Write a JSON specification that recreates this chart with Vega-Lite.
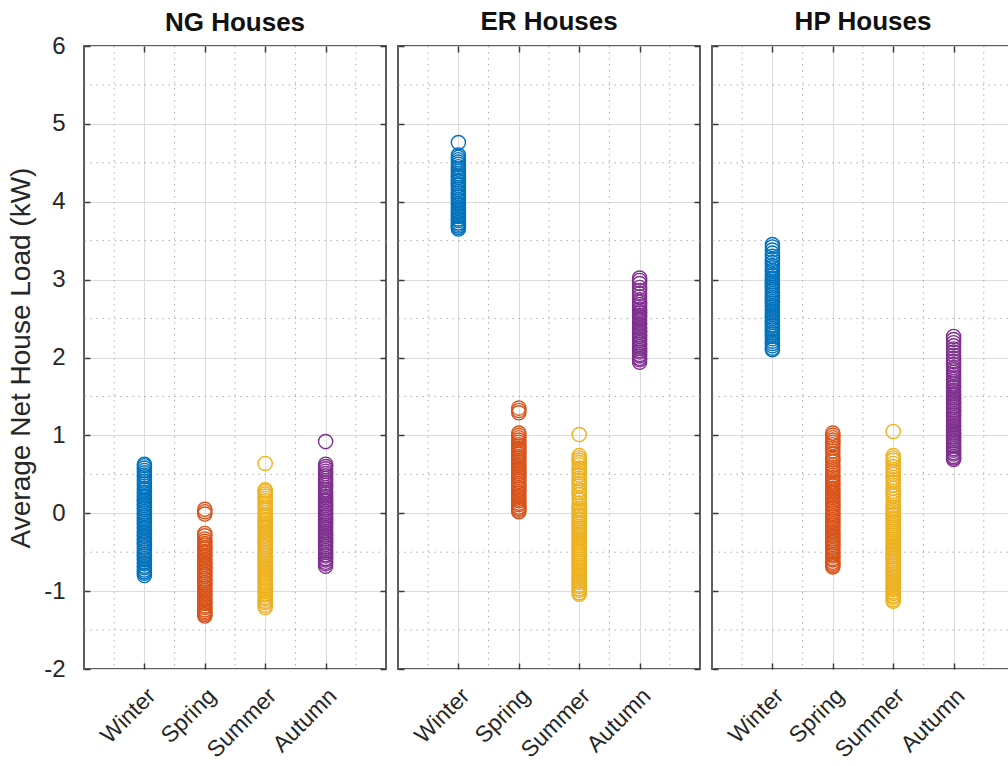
{
"$schema": "https://vega.github.io/schema/vega-lite/v6.json",
"autosize": {"type": "pad"},
"padding": {"left": 6, "top": 8, "right": 0, "bottom": 0},
"background": "white",
"spacing": 8,
"config": {
  "view": {"stroke": "#5e5e5e", "strokeWidth": 2},
  "font": "Liberation Sans",
  "title": {"fontSize": 26, "fontWeight": "bold", "color": "#111111", "baseline": "alphabetic", "frame": "group", "font": "Liberation Sans"},
  "axis": {"labelFont": "Liberation Sans", "titleFont": "Liberation Sans"}
},
"datasets": {
  "vg": [{"g": 0.5}, {"g": 1.5}, {"g": 2.5}, {"g": 3.5}, {"g": 4.5}],
  "hg": [{"g": -1.5}, {"g": -0.5}, {"g": 0.5}, {"g": 1.5}, {"g": 2.5}, {"g": 3.5}, {"g": 4.5}, {"g": 5.5}],
  "NG": [
{"s":"Winter","v":0.63},{"s":"Winter","v":0.61},{"s":"Winter","v":0.58},{"s":"Winter","v":0.55},{"s":"Winter","v":0.52},{"s":"Winter","v":0.49},{"s":"Winter","v":0.47},{"s":"Winter","v":0.44},{"s":"Winter","v":0.41},{"s":"Winter","v":0.38},{"s":"Winter","v":0.35},{"s":"Winter","v":0.32},{"s":"Winter","v":0.30},{"s":"Winter","v":0.27},{"s":"Winter","v":0.25},{"s":"Winter","v":0.22},{"s":"Winter","v":0.20},{"s":"Winter","v":0.17},{"s":"Winter","v":0.15},{"s":"Winter","v":0.12},{"s":"Winter","v":0.10},{"s":"Winter","v":0.07},{"s":"Winter","v":0.05},{"s":"Winter","v":0.02},{"s":"Winter","v":0.00},{"s":"Winter","v":-0.03},{"s":"Winter","v":-0.05},{"s":"Winter","v":-0.08},{"s":"Winter","v":-0.10},{"s":"Winter","v":-0.13},{"s":"Winter","v":-0.15},{"s":"Winter","v":-0.18},{"s":"Winter","v":-0.20},{"s":"Winter","v":-0.23},{"s":"Winter","v":-0.25},{"s":"Winter","v":-0.28},{"s":"Winter","v":-0.30},{"s":"Winter","v":-0.33},{"s":"Winter","v":-0.35},{"s":"Winter","v":-0.38},{"s":"Winter","v":-0.40},{"s":"Winter","v":-0.43},{"s":"Winter","v":-0.45},{"s":"Winter","v":-0.48},{"s":"Winter","v":-0.50},{"s":"Winter","v":-0.53},{"s":"Winter","v":-0.55},{"s":"Winter","v":-0.58},{"s":"Winter","v":-0.60},{"s":"Winter","v":-0.63},{"s":"Winter","v":-0.65},{"s":"Winter","v":-0.68},{"s":"Winter","v":-0.70},{"s":"Winter","v":-0.73},{"s":"Winter","v":-0.75},{"s":"Winter","v":-0.77},{"s":"Winter","v":-0.80},
{"s":"Spring","v":0.05},{"s":"Spring","v":0.02},{"s":"Spring","v":-0.01},{"s":"Spring","v":-0.26},{"s":"Spring","v":-0.29},{"s":"Spring","v":-0.33},{"s":"Spring","v":-0.36},{"s":"Spring","v":-0.39},{"s":"Spring","v":-0.41},{"s":"Spring","v":-0.44},{"s":"Spring","v":-0.46},{"s":"Spring","v":-0.49},{"s":"Spring","v":-0.51},{"s":"Spring","v":-0.54},{"s":"Spring","v":-0.56},{"s":"Spring","v":-0.59},{"s":"Spring","v":-0.61},{"s":"Spring","v":-0.64},{"s":"Spring","v":-0.66},{"s":"Spring","v":-0.69},{"s":"Spring","v":-0.71},{"s":"Spring","v":-0.74},{"s":"Spring","v":-0.76},{"s":"Spring","v":-0.79},{"s":"Spring","v":-0.81},{"s":"Spring","v":-0.84},{"s":"Spring","v":-0.86},{"s":"Spring","v":-0.89},{"s":"Spring","v":-0.91},{"s":"Spring","v":-0.94},{"s":"Spring","v":-0.96},{"s":"Spring","v":-0.99},{"s":"Spring","v":-1.01},{"s":"Spring","v":-1.04},{"s":"Spring","v":-1.06},{"s":"Spring","v":-1.09},{"s":"Spring","v":-1.11},{"s":"Spring","v":-1.14},{"s":"Spring","v":-1.16},{"s":"Spring","v":-1.19},{"s":"Spring","v":-1.21},{"s":"Spring","v":-1.24},{"s":"Spring","v":-1.26},{"s":"Spring","v":-1.28},{"s":"Spring","v":-1.30},{"s":"Spring","v":-1.32},
{"s":"Summer","v":0.64},{"s":"Summer","v":0.30},{"s":"Summer","v":0.28},{"s":"Summer","v":0.25},{"s":"Summer","v":0.22},{"s":"Summer","v":0.19},{"s":"Summer","v":0.16},{"s":"Summer","v":0.13},{"s":"Summer","v":0.10},{"s":"Summer","v":0.07},{"s":"Summer","v":0.04},{"s":"Summer","v":0.01},{"s":"Summer","v":-0.02},{"s":"Summer","v":-0.05},{"s":"Summer","v":-0.08},{"s":"Summer","v":-0.10},{"s":"Summer","v":-0.13},{"s":"Summer","v":-0.15},{"s":"Summer","v":-0.18},{"s":"Summer","v":-0.20},{"s":"Summer","v":-0.23},{"s":"Summer","v":-0.25},{"s":"Summer","v":-0.28},{"s":"Summer","v":-0.30},{"s":"Summer","v":-0.33},{"s":"Summer","v":-0.35},{"s":"Summer","v":-0.38},{"s":"Summer","v":-0.40},{"s":"Summer","v":-0.43},{"s":"Summer","v":-0.45},{"s":"Summer","v":-0.48},{"s":"Summer","v":-0.50},{"s":"Summer","v":-0.53},{"s":"Summer","v":-0.55},{"s":"Summer","v":-0.58},{"s":"Summer","v":-0.60},{"s":"Summer","v":-0.63},{"s":"Summer","v":-0.65},{"s":"Summer","v":-0.68},{"s":"Summer","v":-0.70},{"s":"Summer","v":-0.73},{"s":"Summer","v":-0.75},{"s":"Summer","v":-0.78},{"s":"Summer","v":-0.80},{"s":"Summer","v":-0.83},{"s":"Summer","v":-0.85},{"s":"Summer","v":-0.88},{"s":"Summer","v":-0.90},{"s":"Summer","v":-0.93},{"s":"Summer","v":-0.95},{"s":"Summer","v":-0.98},{"s":"Summer","v":-1.00},{"s":"Summer","v":-1.03},{"s":"Summer","v":-1.05},{"s":"Summer","v":-1.08},{"s":"Summer","v":-1.10},{"s":"Summer","v":-1.13},{"s":"Summer","v":-1.15},{"s":"Summer","v":-1.18},{"s":"Summer","v":-1.21},
{"s":"Autumn","v":0.92},{"s":"Autumn","v":0.63},{"s":"Autumn","v":0.60},{"s":"Autumn","v":0.57},{"s":"Autumn","v":0.54},{"s":"Autumn","v":0.51},{"s":"Autumn","v":0.48},{"s":"Autumn","v":0.45},{"s":"Autumn","v":0.42},{"s":"Autumn","v":0.39},{"s":"Autumn","v":0.36},{"s":"Autumn","v":0.33},{"s":"Autumn","v":0.30},{"s":"Autumn","v":0.27},{"s":"Autumn","v":0.25},{"s":"Autumn","v":0.22},{"s":"Autumn","v":0.20},{"s":"Autumn","v":0.17},{"s":"Autumn","v":0.15},{"s":"Autumn","v":0.12},{"s":"Autumn","v":0.10},{"s":"Autumn","v":0.07},{"s":"Autumn","v":0.05},{"s":"Autumn","v":0.02},{"s":"Autumn","v":0.00},{"s":"Autumn","v":-0.03},{"s":"Autumn","v":-0.05},{"s":"Autumn","v":-0.08},{"s":"Autumn","v":-0.10},{"s":"Autumn","v":-0.13},{"s":"Autumn","v":-0.15},{"s":"Autumn","v":-0.18},{"s":"Autumn","v":-0.20},{"s":"Autumn","v":-0.23},{"s":"Autumn","v":-0.25},{"s":"Autumn","v":-0.28},{"s":"Autumn","v":-0.30},{"s":"Autumn","v":-0.33},{"s":"Autumn","v":-0.35},{"s":"Autumn","v":-0.38},{"s":"Autumn","v":-0.40},{"s":"Autumn","v":-0.43},{"s":"Autumn","v":-0.45},{"s":"Autumn","v":-0.48},{"s":"Autumn","v":-0.50},{"s":"Autumn","v":-0.53},{"s":"Autumn","v":-0.55},{"s":"Autumn","v":-0.58},{"s":"Autumn","v":-0.60},{"s":"Autumn","v":-0.63},{"s":"Autumn","v":-0.65},{"s":"Autumn","v":-0.68}
  ],
  "ER": [
{"s":"Winter","v":4.76},{"s":"Winter","v":4.60},{"s":"Winter","v":4.57},{"s":"Winter","v":4.54},{"s":"Winter","v":4.51},{"s":"Winter","v":4.48},{"s":"Winter","v":4.45},{"s":"Winter","v":4.42},{"s":"Winter","v":4.39},{"s":"Winter","v":4.36},{"s":"Winter","v":4.33},{"s":"Winter","v":4.31},{"s":"Winter","v":4.28},{"s":"Winter","v":4.26},{"s":"Winter","v":4.23},{"s":"Winter","v":4.21},{"s":"Winter","v":4.18},{"s":"Winter","v":4.16},{"s":"Winter","v":4.13},{"s":"Winter","v":4.11},{"s":"Winter","v":4.08},{"s":"Winter","v":4.06},{"s":"Winter","v":4.03},{"s":"Winter","v":4.01},{"s":"Winter","v":3.98},{"s":"Winter","v":3.96},{"s":"Winter","v":3.93},{"s":"Winter","v":3.91},{"s":"Winter","v":3.88},{"s":"Winter","v":3.86},{"s":"Winter","v":3.83},{"s":"Winter","v":3.81},{"s":"Winter","v":3.78},{"s":"Winter","v":3.76},{"s":"Winter","v":3.73},{"s":"Winter","v":3.71},{"s":"Winter","v":3.69},{"s":"Winter","v":3.67},{"s":"Winter","v":3.65},
{"s":"Spring","v":1.35},{"s":"Spring","v":1.32},{"s":"Spring","v":1.29},{"s":"Spring","v":1.03},{"s":"Spring","v":1.00},{"s":"Spring","v":0.97},{"s":"Spring","v":0.94},{"s":"Spring","v":0.91},{"s":"Spring","v":0.88},{"s":"Spring","v":0.86},{"s":"Spring","v":0.83},{"s":"Spring","v":0.81},{"s":"Spring","v":0.78},{"s":"Spring","v":0.76},{"s":"Spring","v":0.73},{"s":"Spring","v":0.71},{"s":"Spring","v":0.68},{"s":"Spring","v":0.66},{"s":"Spring","v":0.63},{"s":"Spring","v":0.61},{"s":"Spring","v":0.58},{"s":"Spring","v":0.56},{"s":"Spring","v":0.53},{"s":"Spring","v":0.51},{"s":"Spring","v":0.48},{"s":"Spring","v":0.46},{"s":"Spring","v":0.43},{"s":"Spring","v":0.41},{"s":"Spring","v":0.38},{"s":"Spring","v":0.36},{"s":"Spring","v":0.33},{"s":"Spring","v":0.31},{"s":"Spring","v":0.28},{"s":"Spring","v":0.26},{"s":"Spring","v":0.23},{"s":"Spring","v":0.21},{"s":"Spring","v":0.18},{"s":"Spring","v":0.16},{"s":"Spring","v":0.13},{"s":"Spring","v":0.11},{"s":"Spring","v":0.08},{"s":"Spring","v":0.06},{"s":"Spring","v":0.04},{"s":"Spring","v":0.02},
{"s":"Summer","v":1.01},{"s":"Summer","v":0.74},{"s":"Summer","v":0.71},{"s":"Summer","v":0.68},{"s":"Summer","v":0.65},{"s":"Summer","v":0.62},{"s":"Summer","v":0.58},{"s":"Summer","v":0.55},{"s":"Summer","v":0.52},{"s":"Summer","v":0.49},{"s":"Summer","v":0.45},{"s":"Summer","v":0.42},{"s":"Summer","v":0.38},{"s":"Summer","v":0.35},{"s":"Summer","v":0.30},{"s":"Summer","v":0.27},{"s":"Summer","v":0.24},{"s":"Summer","v":0.20},{"s":"Summer","v":0.17},{"s":"Summer","v":0.13},{"s":"Summer","v":0.09},{"s":"Summer","v":0.06},{"s":"Summer","v":0.04},{"s":"Summer","v":0.01},{"s":"Summer","v":-0.02},{"s":"Summer","v":-0.04},{"s":"Summer","v":-0.07},{"s":"Summer","v":-0.09},{"s":"Summer","v":-0.12},{"s":"Summer","v":-0.14},{"s":"Summer","v":-0.17},{"s":"Summer","v":-0.19},{"s":"Summer","v":-0.22},{"s":"Summer","v":-0.24},{"s":"Summer","v":-0.27},{"s":"Summer","v":-0.29},{"s":"Summer","v":-0.32},{"s":"Summer","v":-0.34},{"s":"Summer","v":-0.37},{"s":"Summer","v":-0.39},{"s":"Summer","v":-0.42},{"s":"Summer","v":-0.44},{"s":"Summer","v":-0.47},{"s":"Summer","v":-0.49},{"s":"Summer","v":-0.52},{"s":"Summer","v":-0.54},{"s":"Summer","v":-0.57},{"s":"Summer","v":-0.59},{"s":"Summer","v":-0.62},{"s":"Summer","v":-0.64},{"s":"Summer","v":-0.67},{"s":"Summer","v":-0.69},{"s":"Summer","v":-0.72},{"s":"Summer","v":-0.74},{"s":"Summer","v":-0.77},{"s":"Summer","v":-0.79},{"s":"Summer","v":-0.82},{"s":"Summer","v":-0.84},{"s":"Summer","v":-0.87},{"s":"Summer","v":-0.89},{"s":"Summer","v":-0.92},{"s":"Summer","v":-0.94},{"s":"Summer","v":-0.97},{"s":"Summer","v":-0.99},{"s":"Summer","v":-1.02},{"s":"Summer","v":-1.04},
{"s":"Autumn","v":3.02},{"s":"Autumn","v":2.99},{"s":"Autumn","v":2.95},{"s":"Autumn","v":2.90},{"s":"Autumn","v":2.86},{"s":"Autumn","v":2.82},{"s":"Autumn","v":2.78},{"s":"Autumn","v":2.74},{"s":"Autumn","v":2.71},{"s":"Autumn","v":2.68},{"s":"Autumn","v":2.65},{"s":"Autumn","v":2.62},{"s":"Autumn","v":2.59},{"s":"Autumn","v":2.57},{"s":"Autumn","v":2.54},{"s":"Autumn","v":2.52},{"s":"Autumn","v":2.49},{"s":"Autumn","v":2.47},{"s":"Autumn","v":2.44},{"s":"Autumn","v":2.42},{"s":"Autumn","v":2.39},{"s":"Autumn","v":2.37},{"s":"Autumn","v":2.34},{"s":"Autumn","v":2.32},{"s":"Autumn","v":2.29},{"s":"Autumn","v":2.27},{"s":"Autumn","v":2.24},{"s":"Autumn","v":2.22},{"s":"Autumn","v":2.19},{"s":"Autumn","v":2.17},{"s":"Autumn","v":2.14},{"s":"Autumn","v":2.12},{"s":"Autumn","v":2.09},{"s":"Autumn","v":2.07},{"s":"Autumn","v":2.04},{"s":"Autumn","v":2.02},{"s":"Autumn","v":1.99},{"s":"Autumn","v":1.97},{"s":"Autumn","v":1.94}
  ],
  "HP": [
{"s":"Winter","v":3.45},{"s":"Winter","v":3.42},{"s":"Winter","v":3.38},{"s":"Winter","v":3.34},{"s":"Winter","v":3.30},{"s":"Winter","v":3.26},{"s":"Winter","v":3.22},{"s":"Winter","v":3.18},{"s":"Winter","v":3.15},{"s":"Winter","v":3.12},{"s":"Winter","v":3.10},{"s":"Winter","v":3.07},{"s":"Winter","v":3.05},{"s":"Winter","v":3.02},{"s":"Winter","v":3.00},{"s":"Winter","v":2.97},{"s":"Winter","v":2.95},{"s":"Winter","v":2.92},{"s":"Winter","v":2.90},{"s":"Winter","v":2.87},{"s":"Winter","v":2.85},{"s":"Winter","v":2.82},{"s":"Winter","v":2.80},{"s":"Winter","v":2.77},{"s":"Winter","v":2.75},{"s":"Winter","v":2.72},{"s":"Winter","v":2.70},{"s":"Winter","v":2.67},{"s":"Winter","v":2.65},{"s":"Winter","v":2.62},{"s":"Winter","v":2.60},{"s":"Winter","v":2.57},{"s":"Winter","v":2.55},{"s":"Winter","v":2.52},{"s":"Winter","v":2.50},{"s":"Winter","v":2.47},{"s":"Winter","v":2.45},{"s":"Winter","v":2.42},{"s":"Winter","v":2.40},{"s":"Winter","v":2.37},{"s":"Winter","v":2.35},{"s":"Winter","v":2.32},{"s":"Winter","v":2.30},{"s":"Winter","v":2.27},{"s":"Winter","v":2.24},{"s":"Winter","v":2.21},{"s":"Winter","v":2.18},{"s":"Winter","v":2.15},{"s":"Winter","v":2.12},{"s":"Winter","v":2.10},
{"s":"Spring","v":1.03},{"s":"Spring","v":1.00},{"s":"Spring","v":0.97},{"s":"Spring","v":0.94},{"s":"Spring","v":0.91},{"s":"Spring","v":0.88},{"s":"Spring","v":0.84},{"s":"Spring","v":0.80},{"s":"Spring","v":0.76},{"s":"Spring","v":0.72},{"s":"Spring","v":0.69},{"s":"Spring","v":0.66},{"s":"Spring","v":0.62},{"s":"Spring","v":0.59},{"s":"Spring","v":0.56},{"s":"Spring","v":0.53},{"s":"Spring","v":0.49},{"s":"Spring","v":0.46},{"s":"Spring","v":0.43},{"s":"Spring","v":0.40},{"s":"Spring","v":0.37},{"s":"Spring","v":0.35},{"s":"Spring","v":0.32},{"s":"Spring","v":0.30},{"s":"Spring","v":0.27},{"s":"Spring","v":0.25},{"s":"Spring","v":0.22},{"s":"Spring","v":0.20},{"s":"Spring","v":0.17},{"s":"Spring","v":0.15},{"s":"Spring","v":0.12},{"s":"Spring","v":0.10},{"s":"Spring","v":0.07},{"s":"Spring","v":0.05},{"s":"Spring","v":0.02},{"s":"Spring","v":0.00},{"s":"Spring","v":-0.03},{"s":"Spring","v":-0.05},{"s":"Spring","v":-0.08},{"s":"Spring","v":-0.10},{"s":"Spring","v":-0.13},{"s":"Spring","v":-0.15},{"s":"Spring","v":-0.18},{"s":"Spring","v":-0.20},{"s":"Spring","v":-0.23},{"s":"Spring","v":-0.25},{"s":"Spring","v":-0.28},{"s":"Spring","v":-0.30},{"s":"Spring","v":-0.33},{"s":"Spring","v":-0.35},{"s":"Spring","v":-0.38},{"s":"Spring","v":-0.40},{"s":"Spring","v":-0.43},{"s":"Spring","v":-0.45},{"s":"Spring","v":-0.48},{"s":"Spring","v":-0.50},{"s":"Spring","v":-0.53},{"s":"Spring","v":-0.55},{"s":"Spring","v":-0.58},{"s":"Spring","v":-0.60},{"s":"Spring","v":-0.63},{"s":"Spring","v":-0.65},{"s":"Spring","v":-0.67},{"s":"Spring","v":-0.69},
{"s":"Summer","v":1.05},{"s":"Summer","v":0.74},{"s":"Summer","v":0.71},{"s":"Summer","v":0.68},{"s":"Summer","v":0.64},{"s":"Summer","v":0.60},{"s":"Summer","v":0.56},{"s":"Summer","v":0.53},{"s":"Summer","v":0.50},{"s":"Summer","v":0.46},{"s":"Summer","v":0.43},{"s":"Summer","v":0.40},{"s":"Summer","v":0.36},{"s":"Summer","v":0.32},{"s":"Summer","v":0.28},{"s":"Summer","v":0.25},{"s":"Summer","v":0.22},{"s":"Summer","v":0.18},{"s":"Summer","v":0.14},{"s":"Summer","v":0.10},{"s":"Summer","v":0.07},{"s":"Summer","v":0.04},{"s":"Summer","v":0.02},{"s":"Summer","v":-0.01},{"s":"Summer","v":-0.03},{"s":"Summer","v":-0.06},{"s":"Summer","v":-0.08},{"s":"Summer","v":-0.11},{"s":"Summer","v":-0.13},{"s":"Summer","v":-0.16},{"s":"Summer","v":-0.18},{"s":"Summer","v":-0.21},{"s":"Summer","v":-0.23},{"s":"Summer","v":-0.26},{"s":"Summer","v":-0.28},{"s":"Summer","v":-0.31},{"s":"Summer","v":-0.33},{"s":"Summer","v":-0.36},{"s":"Summer","v":-0.38},{"s":"Summer","v":-0.41},{"s":"Summer","v":-0.43},{"s":"Summer","v":-0.46},{"s":"Summer","v":-0.48},{"s":"Summer","v":-0.51},{"s":"Summer","v":-0.53},{"s":"Summer","v":-0.56},{"s":"Summer","v":-0.58},{"s":"Summer","v":-0.61},{"s":"Summer","v":-0.63},{"s":"Summer","v":-0.66},{"s":"Summer","v":-0.68},{"s":"Summer","v":-0.71},{"s":"Summer","v":-0.73},{"s":"Summer","v":-0.76},{"s":"Summer","v":-0.78},{"s":"Summer","v":-0.81},{"s":"Summer","v":-0.83},{"s":"Summer","v":-0.86},{"s":"Summer","v":-0.88},{"s":"Summer","v":-0.91},{"s":"Summer","v":-0.93},{"s":"Summer","v":-0.96},{"s":"Summer","v":-0.98},{"s":"Summer","v":-1.01},{"s":"Summer","v":-1.03},{"s":"Summer","v":-1.06},{"s":"Summer","v":-1.08},{"s":"Summer","v":-1.11},{"s":"Summer","v":-1.13},
{"s":"Autumn","v":2.27},{"s":"Autumn","v":2.23},{"s":"Autumn","v":2.19},{"s":"Autumn","v":2.15},{"s":"Autumn","v":2.11},{"s":"Autumn","v":2.07},{"s":"Autumn","v":2.03},{"s":"Autumn","v":1.99},{"s":"Autumn","v":1.95},{"s":"Autumn","v":1.91},{"s":"Autumn","v":1.87},{"s":"Autumn","v":1.84},{"s":"Autumn","v":1.81},{"s":"Autumn","v":1.78},{"s":"Autumn","v":1.75},{"s":"Autumn","v":1.72},{"s":"Autumn","v":1.69},{"s":"Autumn","v":1.66},{"s":"Autumn","v":1.63},{"s":"Autumn","v":1.61},{"s":"Autumn","v":1.58},{"s":"Autumn","v":1.56},{"s":"Autumn","v":1.53},{"s":"Autumn","v":1.51},{"s":"Autumn","v":1.48},{"s":"Autumn","v":1.46},{"s":"Autumn","v":1.43},{"s":"Autumn","v":1.41},{"s":"Autumn","v":1.38},{"s":"Autumn","v":1.36},{"s":"Autumn","v":1.33},{"s":"Autumn","v":1.31},{"s":"Autumn","v":1.28},{"s":"Autumn","v":1.26},{"s":"Autumn","v":1.23},{"s":"Autumn","v":1.21},{"s":"Autumn","v":1.18},{"s":"Autumn","v":1.16},{"s":"Autumn","v":1.13},{"s":"Autumn","v":1.11},{"s":"Autumn","v":1.08},{"s":"Autumn","v":1.06},{"s":"Autumn","v":1.03},{"s":"Autumn","v":1.01},{"s":"Autumn","v":0.98},{"s":"Autumn","v":0.96},{"s":"Autumn","v":0.93},{"s":"Autumn","v":0.91},{"s":"Autumn","v":0.88},{"s":"Autumn","v":0.86},{"s":"Autumn","v":0.83},{"s":"Autumn","v":0.81},{"s":"Autumn","v":0.78},{"s":"Autumn","v":0.76},{"s":"Autumn","v":0.73},{"s":"Autumn","v":0.71},{"s":"Autumn","v":0.69}
  ]
},
"hconcat": [
  {
    "width": 302, "height": 623,
    "title": {"text": "NG Houses", "offset": -2},
    "layer": [
      {"data": {"name": "vg"}, "mark": {"type": "rule", "color": "#ababab", "strokeDash": [1.5, 4.5], "strokeWidth": 1},
       "encoding": {"x": {"field": "g", "type": "quantitative", "scale": {"domain": [0, 5]},
         "axis": {"orient": "top", "values": [1, 2, 3, 4], "labels": false, "title": null, "grid": false, "domain": false, "tickSize": -6, "tickColor": "#3a3a3a", "tickWidth": 1.5}}}},
      {"data": {"name": "hg"}, "mark": {"type": "rule", "color": "#ababab", "strokeDash": [1.5, 4.5], "strokeWidth": 1},
       "encoding": {"y": {"field": "g", "type": "quantitative", "scale": {"domain": [-2, 6]},
         "axis": {"orient": "right", "values": [-2, -1, 0, 1, 2, 3, 4, 5, 6], "labels": false, "title": null, "grid": false, "domain": false, "tickSize": -6, "tickColor": "#3a3a3a", "tickWidth": 1.5}}}},
      {"data": {"name": "NG"},
       "mark": {"type": "point", "shape": "circle", "filled": false, "size": 200, "strokeWidth": 1.4, "opacity": 1},
       "encoding": {
         "x": {"field": "s", "type": "ordinal", "sort": ["Winter", "Spring", "Summer", "Autumn"], "scale": {"type": "point", "padding": 1},
           "axis": {"title": null, "labelAngle": -45, "labelAlign": "right", "labelBaseline": "middle", "labelFontSize": 23, "labelColor": "#262626", "labelPadding": 29, "labelOffset": 7, "tickSize": -6, "tickColor": "#3a3a3a", "tickWidth": 1.5, "domain": false, "grid": true, "gridColor": "#dcdcdc", "gridWidth": 1}},
         "y": {"field": "v", "type": "quantitative", "scale": {"domain": [-2, 6]},
           "axis": {"values": [-2, -1, 0, 1, 2, 3, 4, 5, 6], "labelExpr": "datum.value < 0 ? '-' + abs(datum.value) : '' + datum.value", "title": "Average Net House Load (kW)", "titleFontSize": 28, "titleFontWeight": "normal", "titleColor": "#262626", "titlePadding": 8, "labelFontSize": 24, "labelColor": "#262626", "labelPadding": 25, "tickSize": -6, "tickColor": "#3a3a3a", "tickWidth": 1.5, "domain": false, "grid": true, "gridColor": "#dcdcdc", "gridWidth": 1}},
         "color": {"field": "s", "type": "nominal", "scale": {"domain": ["Winter", "Spring", "Summer", "Autumn"], "range": ["#0072BD", "#D95319", "#EDB120", "#7E2F8E"]}, "legend": null}
       }}
    ],
    "resolve": {"scale": {"x": "independent"}, "axis": {"y": "independent"}}
  },
  {
    "width": 302, "height": 623,
    "title": {"text": "ER Houses", "offset": 10},
    "layer": [
      {"data": {"name": "vg"}, "mark": {"type": "rule", "color": "#ababab", "strokeDash": [1.5, 4.5], "strokeWidth": 1},
       "encoding": {"x": {"field": "g", "type": "quantitative", "scale": {"domain": [0, 5]},
         "axis": {"orient": "top", "values": [1, 2, 3, 4], "labels": false, "title": null, "grid": false, "domain": false, "tickSize": -6, "tickColor": "#3a3a3a", "tickWidth": 1.5}}}},
      {"data": {"name": "hg"}, "mark": {"type": "rule", "color": "#ababab", "strokeDash": [1.5, 4.5], "strokeWidth": 1},
       "encoding": {"y": {"field": "g", "type": "quantitative", "scale": {"domain": [-2, 6]},
         "axis": {"orient": "right", "values": [-2, -1, 0, 1, 2, 3, 4, 5, 6], "labels": false, "title": null, "grid": false, "domain": false, "tickSize": -6, "tickColor": "#3a3a3a", "tickWidth": 1.5}}}},
      {"data": {"name": "ER"},
       "mark": {"type": "point", "shape": "circle", "filled": false, "size": 200, "strokeWidth": 1.4, "opacity": 1},
       "encoding": {
         "x": {"field": "s", "type": "ordinal", "sort": ["Winter", "Spring", "Summer", "Autumn"], "scale": {"type": "point", "padding": 1},
           "axis": {"title": null, "labelAngle": -45, "labelAlign": "right", "labelBaseline": "middle", "labelFontSize": 23, "labelColor": "#262626", "labelPadding": 29, "labelOffset": 7, "tickSize": -6, "tickColor": "#3a3a3a", "tickWidth": 1.5, "domain": false, "grid": true, "gridColor": "#dcdcdc", "gridWidth": 1}},
         "y": {"field": "v", "type": "quantitative", "scale": {"domain": [-2, 6]},
           "axis": {"values": [-2, -1, 0, 1, 2, 3, 4, 5, 6], "title": null, "labels": false, "tickSize": -6, "tickColor": "#3a3a3a", "tickWidth": 1.5, "domain": false, "grid": true, "gridColor": "#dcdcdc", "gridWidth": 1}},
         "color": {"field": "s", "type": "nominal", "scale": {"domain": ["Winter", "Spring", "Summer", "Autumn"], "range": ["#0072BD", "#D95319", "#EDB120", "#7E2F8E"]}, "legend": null}
       }}
    ],
    "resolve": {"scale": {"x": "independent"}, "axis": {"y": "independent"}}
  },
  {
    "width": 302, "height": 623,
    "title": {"text": "HP Houses", "offset": 10},
    "layer": [
      {"data": {"name": "vg"}, "mark": {"type": "rule", "color": "#ababab", "strokeDash": [1.5, 4.5], "strokeWidth": 1},
       "encoding": {"x": {"field": "g", "type": "quantitative", "scale": {"domain": [0, 5]},
         "axis": {"orient": "top", "values": [1, 2, 3, 4], "labels": false, "title": null, "grid": false, "domain": false, "tickSize": -6, "tickColor": "#3a3a3a", "tickWidth": 1.5}}}},
      {"data": {"name": "hg"}, "mark": {"type": "rule", "color": "#ababab", "strokeDash": [1.5, 4.5], "strokeWidth": 1},
       "encoding": {"y": {"field": "g", "type": "quantitative", "scale": {"domain": [-2, 6]},
         "axis": {"orient": "right", "values": [-2, -1, 0, 1, 2, 3, 4, 5, 6], "labels": false, "title": null, "grid": false, "domain": false, "tickSize": -6, "tickColor": "#3a3a3a", "tickWidth": 1.5}}}},
      {"data": {"name": "HP"},
       "mark": {"type": "point", "shape": "circle", "filled": false, "size": 200, "strokeWidth": 1.4, "opacity": 1},
       "encoding": {
         "x": {"field": "s", "type": "ordinal", "sort": ["Winter", "Spring", "Summer", "Autumn"], "scale": {"type": "point", "padding": 1},
           "axis": {"title": null, "labelAngle": -45, "labelAlign": "right", "labelBaseline": "middle", "labelFontSize": 23, "labelColor": "#262626", "labelPadding": 29, "labelOffset": 7, "tickSize": -6, "tickColor": "#3a3a3a", "tickWidth": 1.5, "domain": false, "grid": true, "gridColor": "#dcdcdc", "gridWidth": 1}},
         "y": {"field": "v", "type": "quantitative", "scale": {"domain": [-2, 6]},
           "axis": {"values": [-2, -1, 0, 1, 2, 3, 4, 5, 6], "title": null, "labels": false, "tickSize": -6, "tickColor": "#3a3a3a", "tickWidth": 1.5, "domain": false, "grid": true, "gridColor": "#dcdcdc", "gridWidth": 1}},
         "color": {"field": "s", "type": "nominal", "scale": {"domain": ["Winter", "Spring", "Summer", "Autumn"], "range": ["#0072BD", "#D95319", "#EDB120", "#7E2F8E"]}, "legend": null}
       }}
    ],
    "resolve": {"scale": {"x": "independent"}, "axis": {"y": "independent"}}
  }
]
}
